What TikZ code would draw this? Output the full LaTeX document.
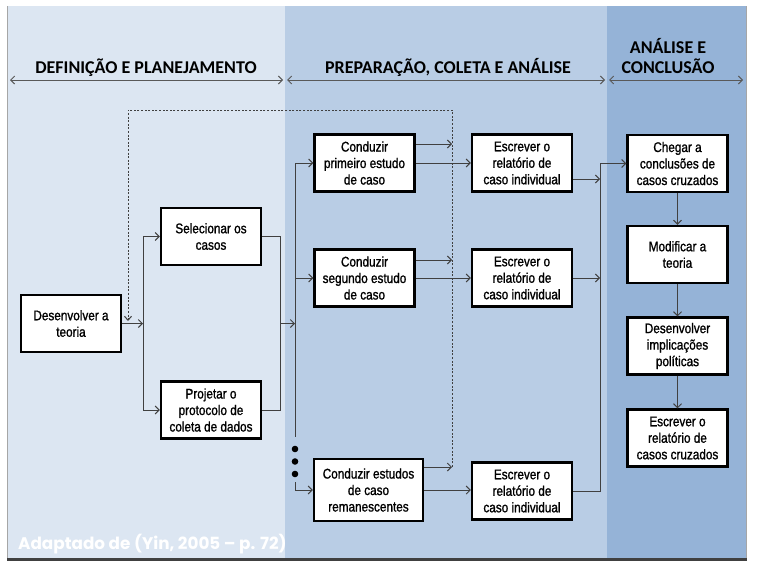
\documentclass[tikz,border=0pt]{standalone}
\usepackage{fontspec}
\setmainfont{Liberation Sans}
\newfontfamily\boxfont{Liberation Sans}[FakeStretch=0.84,FakeBold=1.2]
\newfontfamily\headfont{Carlito}
\newfontfamily\creditfont{Poppins}
\usetikzlibrary{arrows.meta}
\definecolor{paneA}{HTML}{DCE6F2}
\definecolor{paneB}{HTML}{B9CDE5}
\definecolor{paneC}{HTML}{95B3D7}
\definecolor{lineg}{HTML}{404040}
\definecolor{hdrg}{HTML}{595959}

\begin{document}
\begin{tikzpicture}[x=1pt,y=-1pt,
   box/.style={draw=black,line width=2.2pt,fill=white,minimum width=100pt,minimum height=57pt,inner sep=1pt,align=center,font=\boxfont\fontsize{14}{16.5}\selectfont},
   link/.style={draw=lineg,line width=1pt},
   conn/.style={link,-{Straight Barb[length=4pt,width=8pt]}},
   fb/.style={draw=lineg,line width=1pt,dash pattern=on 2pt off 1.6pt},
   hdr/.style={draw=hdrg,line width=1pt,{Straight Barb[length=4pt,width=8pt]}-{Straight Barb[length=4pt,width=8pt]}},
   hdrtxt/.style={font=\headfont\bfseries\fontsize{18}{20}\selectfont,text=black,anchor=base,inner sep=0pt}]
\useasboundingbox (0,0) rectangle (757,570);
% background panels
\fill[paneA] (7,6) rectangle (285,558);
\fill[paneB] (285,6) rectangle (607,558);
\fill[paneC] (607,6) rectangle (746,558);
\draw[black!35,line width=0.8pt] (7,6) -- (7,558) (746,6) -- (746,558);
\fill[black!75] (7,558) rectangle (747,561);
% phase headers
\draw[hdr] (10,80) -- (283,80);
\draw[hdr] (287,80) -- (605,80);
\draw[hdr] (609,80) -- (743,80);
\node[hdrtxt] (hA) at (146,73) {DEFINIÇÃO E PLANEJAMENTO};
\node[hdrtxt] (hB) at (448,73) {PREPARAÇÃO, COLETA E ANÁLISE};
\node[hdrtxt] (hC1) at (668,53) {ANÁLISE E};
\node[hdrtxt] (hC2) at (668,73) {CONCLUSÃO};
% steps
\node[box] (teoria) at (71,323.5) {Desenvolver a\\teoria};
\node[box] (selec) at (211,236.5) {Selecionar os\\casos};
\node[box] (proj) at (211,410) {Projetar o\\protocolo de\\coleta de dados};
\node[box] (cond1) at (364.5,163) {Conduzir\\primeiro estudo\\de caso};
\node[box] (cond2) at (364.5,278) {Conduzir\\segundo estudo\\de caso};
\node[box,minimum width=109pt,minimum height=62pt] (cond3) at (368.5,490) {Conduzir estudos\\de caso\\remanescentes};
\node[box] (escr1) at (522,163) {Escrever o\\relatório de\\caso individual};
\node[box] (escr2) at (522,278) {Escrever o\\relatório de\\caso individual};
\node[box] (escr3) at (522,491) {Escrever o\\relatório de\\caso individual};
\node[box] (cheg) at (677.5,163.5) {Chegar a\\conclusões de\\casos cruzados};
\node[box] (modif) at (677.5,254.5) {Modificar a\\teoria};
\node[box] (implic) at (677.5,346) {Desenvolver\\implicações\\políticas};
\node[box] (relat) at (677.5,438) {Escrever o\\relatório de\\casos cruzados};
% junction points
\coordinate (splitA) at (143,323.5);
\coordinate (mergeB) at (280,323.5);
\coordinate (splitC) at (295,323.5);
\coordinate (dotsTop) at (295,437);
\coordinate (dotsBot) at (295,482);
\coordinate (mergeD) at (600,163.5);
\coordinate (fbTL) at (128,110);
\coordinate (fbTR) at (452,110);
\coordinate (fbEnd) at (128,321);
\coordinate (fb1) at (452,144);
\coordinate (fb2) at (452,260);
\coordinate (fb3) at (452,467);
% theory to case selection and protocol
\draw[conn] (teoria.east) -- (splitA);
\draw[link] (selec.west -| splitA) -- (proj.west -| splitA);
\draw[conn] (selec.west -| splitA) -- (selec.west);
\draw[conn] (proj.west -| splitA) -- (proj.west);
\draw[link] (selec.east) -| (mergeB);
\draw[link] (proj.east) -| (mergeB);
\draw[conn] (mergeB) -- (splitC);
% case studies
\draw[link] (cond1.west -| splitC) -- (dotsTop);
\draw[conn] (cond1.west -| splitC) -- (cond1.west);
\draw[conn] (cond2.west -| splitC) -- (cond2.west);
\draw[conn] (dotsBot) |- (cond3.west);
\foreach \y in {449,461.5,474} \fill (295,\y) circle (3.3pt);
\draw[conn] (cond1) -- (escr1);
\draw[conn] (cond2) -- (escr2);
\draw[conn] (cond3.east) -- (cond3.east -| escr3.west);
% feedback loop (dotted)
\draw[conn] (cond1.east |- fb1) -- (fb1);
\draw[conn] (cond2.east |- fb2) -- (fb2);
\draw[conn] (cond3.east |- fb3) -- (fb3);
\draw[fb,-{Straight Barb[length=4pt,width=7pt]}] (fb3) -- (fbTR) -- (fbTL) -- (fbEnd);
% cross-case conclusion
\draw[link] (escr3.east) -| (mergeD);
\draw[conn] ([yshift=-16pt]escr1.east) -- ([yshift=-16pt]escr1.east -| mergeD);
\draw[conn] (escr2.east) -- (escr2.east -| mergeD);
\draw[conn] (mergeD) -- (cheg.west);
\draw[conn] (cheg) -- (modif);
\draw[conn] (modif) -- (implic);
\draw[conn] (implic) -- (relat);
% source
\node[font=\creditfont\bfseries\fontsize{16.8}{20}\selectfont,text=white,anchor=base west,inner sep=0pt] (credit) at (18,549) {Adaptado de (Yin, 2005 – p. 72)};
\end{tikzpicture}
\end{document}
